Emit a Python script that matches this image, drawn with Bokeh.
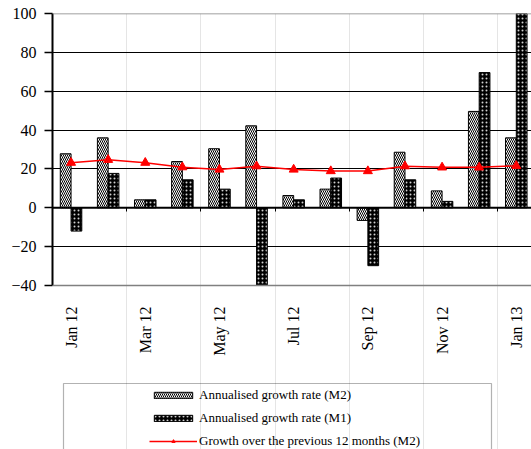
import numpy as np
from math import pi
from bokeh.plotting import figure
from bokeh.core.properties import value
from bokeh.models import (FixedTicker, LinearAxis, Range1d, Span, Legend, LegendItem,
                          ColumnDataSource, BoxAnnotation)
from bokeh.transform import dodge
from bokeh.embed import file_html
from bokeh.resources import INLINE

months = ["Jan 12", "Feb 12", "Mar 12", "Apr 12", "May 12", "Jun 12", "Jul 12",
          "Aug 12", "Sep 12", "Oct 12", "Nov 12", "Dec 12", "Jan 13"]
m2_annualised = [27.8, 36.0, 4.1, 23.8, 30.4, 42.2, 6.3, 9.6, -6.5, 28.6, 8.7, 49.6, 36.0]
m1_annualised = [-12.0, 17.7, 4.1, 14.4, 9.6, -48.0, 4.1, 15.3, -29.8, 14.4, 3.3, 69.6, 110.0]
m2_12m_growth = [23.2, 24.7, 23.2, 20.9, 19.7, 21.4, 19.7, 18.9, 18.9, 21.4, 20.8, 20.8, 21.6]
y_ticks = [-40, -20, 0, 20, 40, 60, 80, 100]
series_labels = ["Annualised growth rate (M2)", "Annualised growth rate (M1)",
                 "Growth over the previous 12 months (M2)"]
label_every = 2

FONT = "Liberation Serif"
Y_MIN, Y_MAX = y_ticks[0], y_ticks[-1]
PX_PER_UNIT = 272 / (Y_MAX - Y_MIN)   # plot-area height / value span
BELOW_PX = 164                         # room under the plot area for labels and legend

x = np.arange(len(months)) + 0.5
src = ColumnDataSource(dict(
    x=x, month=months,
    m2=np.clip(m2_annualised, Y_MIN, Y_MAX), m1=np.clip(m1_annualised, Y_MIN, Y_MAX),
    g=m2_12m_growth))

p = figure(width=531, height=449,
           x_range=Range1d(0, 12.91),
           y_range=Range1d(Y_MIN - BELOW_PX / PX_PER_UNIT, Y_MAX),
           x_axis_location=None,
           output_backend="svg", toolbar_location=None, title=None,
           min_border_left=52, min_border_right=0, min_border_top=13, min_border_bottom=0)
p.background_fill_color = "white"
p.border_fill_color = "white"
p.outline_line_color = None

p.ygrid.ticker = FixedTicker(ticks=[t for t in y_ticks if t not in (Y_MIN, 0, Y_MAX)])
p.ygrid.grid_line_color = "black"
p.ygrid.grid_line_width = 1

# plot-area top / bottom borders
p.add_layout(Span(location=Y_MAX, dimension="width", line_color="#808080", line_width=1.5))
p.add_layout(Span(location=Y_MIN, dimension="width", line_color="#808080", line_width=1.5))

bw = 0.29
r_m2 = p.vbar(x=dodge("x", -bw / 2, range=p.x_range), top="m2", bottom=0, width=bw, source=src,
              fill_color="white", line_color="black", line_width=1,
              hatch_pattern="\\", hatch_color="black", hatch_scale=4, hatch_weight=1.0)
r_m1 = p.vbar(x=dodge("x", bw / 2, range=p.x_range), top="m1", bottom=0, width=bw, source=src,
              fill_color="black", line_color="black", line_width=1,
              hatch_pattern=".", hatch_color="#d0d0d0", hatch_scale=4, hatch_weight=0.4)

p.add_layout(Span(location=0, dimension="width", line_color="black", line_width=2))

r_ln = p.line("x", "g", source=src, line_color="#FF0000", line_width=1.5)
r_mk = p.scatter("x", "g", source=src, marker="triangle", size=9,
                 fill_color="#FF0000", line_color="#FF0000")

ya = p.yaxis[0]
ya.bounds = (Y_MIN, Y_MAX)
ya.ticker = FixedTicker(ticks=y_ticks)
ya.axis_line_color = "black"
ya.axis_line_width = 2
ya.major_tick_out = 8
ya.major_tick_in = 0
ya.major_tick_line_color = "black"
ya.major_tick_line_width = 1.5
ya.minor_tick_line_color = None
ya.major_label_text_font = FONT
ya.major_label_text_font_size = "16px"
ya.major_label_text_color = "black"
ya.major_label_standoff = 8

# tick marks along the zero line
zero_ticks = list(range(2, len(months), label_every))
zero_axis = LinearAxis(ticker=FixedTicker(ticks=zero_ticks),
                       fixed_location=0, axis_line_color=None,
                       major_tick_out=0, major_tick_in=4, major_tick_line_color="black",
                       major_tick_line_width=1, minor_tick_line_color=None,
                       major_label_overrides={t: "" for t in zero_ticks},
                       major_label_standoff=0)
p.add_layout(zero_axis, "above")

# category labels under the plot area (every second month)
lab_src = ColumnDataSource(dict(x=x[::label_every], y=[Y_MIN] * len(x[::label_every]),
                                text=months[::label_every]))
p.text(x="x", y="y", text="text", source=lab_src, angle=pi / 2, y_offset=21,
       text_align="right", text_baseline="middle", text_font=value(FONT),
       text_font_size="16px", text_color="black")

# legend
legend = Legend(items=[
    LegendItem(label=series_labels[0], renderers=[r_m2]),
    LegendItem(label=series_labels[1], renderers=[r_m1]),
    LegendItem(label=series_labels[2], renderers=[r_ln, r_mk]),
], location=(97, 0), orientation="vertical", padding=0, spacing=7, margin=0,
    glyph_width=48, glyph_height=8, label_height=16, label_standoff=2,
    label_text_font=FONT, label_text_font_size="13px", label_text_color="black",
    border_line_color=None, background_fill_alpha=0)
p.add_layout(legend, "center")

p.add_layout(BoxAnnotation(left=11, right=439, top=66, bottom=-10,
                           left_units="screen", right_units="screen",
                           top_units="screen", bottom_units="screen",
                           fill_alpha=0, line_color="black", line_width=1.2))

open("out.html", "w").write(file_html(p, INLINE))
